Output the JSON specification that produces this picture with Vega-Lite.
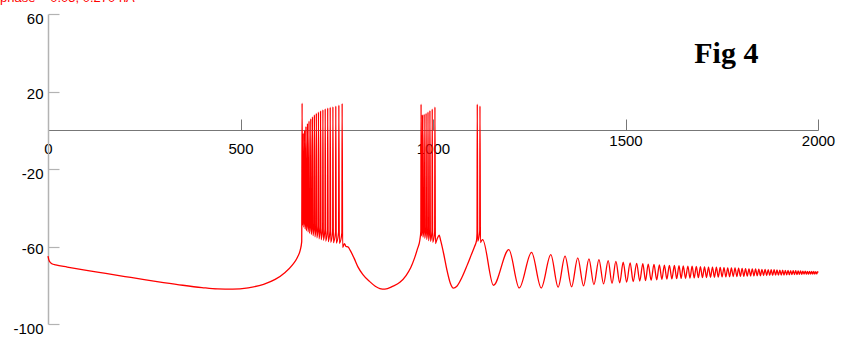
{
 "$schema": "https://vega.github.io/schema/vega-lite/v6.json",
 "width": 770, "height": 310,
 "autosize": "none",
 "padding": {"left": 48, "top": 14, "right": 27, "bottom": 20},
 "background": "white",
 "config": {"view": {"stroke": null}},
 "layer": [
  {
   "data": {"values": [
    {"t":0,"v":-65},{"t":2,"v":-66.8},{"t":5,"v":-68},{"t":10,"v":-68.9},{"t":20,"v":-69.5},{"t":50,"v":-70.6},{"t":100,"v":-72.3},{"t":150,"v":-73.9},{"t":200,"v":-75.5},{"t":250,"v":-77.1},{"t":300,"v":-78.6},{"t":350,"v":-80},{"t":400,"v":-81.2},{"t":440,"v":-81.9},{"t":480,"v":-82},{"t":520,"v":-81.3},{"t":560,"v":-79.5},{"t":590,"v":-77},{"t":615,"v":-73.5},{"t":635,"v":-69.5},{"t":648,"v":-65.5},{"t":655,"v":-62},{"t":659,"v":-57.5},
    {"t":660,"v":14},{"t":661.2,"v":-49},{"t":662.4,"v":-45},
    {"t":663,"v":-1.5},{"t":664.2,"v":-50},{"t":665.9,"v":-45},
    {"t":666.5,"v":0},{"t":667.7,"v":-51},{"t":669.4,"v":-46},
    {"t":670,"v":2},{"t":671.2,"v":-51.8},{"t":673.4,"v":-46},
    {"t":674,"v":3.5},{"t":675.2,"v":-52.5},{"t":677.4,"v":-47},
    {"t":678,"v":4.8},{"t":679.2,"v":-53.2},{"t":681.9,"v":-47.5},
    {"t":682.5,"v":6},{"t":683.7,"v":-53.8},{"t":686.4,"v":-48},
    {"t":687,"v":7},{"t":688.2,"v":-54.4},{"t":691.4,"v":-48.5},
    {"t":692,"v":8},{"t":693.2,"v":-55},{"t":696.4,"v":-49},
    {"t":697,"v":8.8},{"t":698.2,"v":-55.5},{"t":701.9,"v":-49.5},
    {"t":702.5,"v":9.5},{"t":703.7,"v":-56},{"t":707.4,"v":-50},
    {"t":708,"v":10.1},{"t":709.2,"v":-56.4},{"t":713.4,"v":-50.5},
    {"t":714,"v":10.6},{"t":715.2,"v":-56.8},{"t":719.4,"v":-51},
    {"t":720,"v":11.1},{"t":721.2,"v":-57.2},{"t":725.9,"v":-51.5},
    {"t":726.5,"v":11.5},{"t":727.7,"v":-57.5},{"t":732.4,"v":-52},
    {"t":733,"v":11.9},{"t":734.2,"v":-57.8},{"t":739.4,"v":-52},
    {"t":740,"v":12.2},{"t":741.2,"v":-58},{"t":746.9,"v":-52.5},
    {"t":747.5,"v":12.5},{"t":748.7,"v":-58.2},{"t":754.9,"v":-52.5},
    {"t":755.5,"v":13},{"t":756.7,"v":-58.4},{"t":763.4,"v":-53},
    {"t":764,"v":13.8},{"t":765.2,"v":-60.5},
    {"t":770,"v":-58.5},{"t":774,"v":-60},{"t":779,"v":-60.2},{"t":785,"v":-62},{"t":795,"v":-66},{"t":805,"v":-70.5},{"t":818,"v":-74.5},{"t":835,"v":-78},{"t":850,"v":-80.5},{"t":862,"v":-81.7},{"t":875,"v":-82},{"t":895,"v":-80.6},{"t":914,"v":-78.5},{"t":930,"v":-75},{"t":942,"v":-71},{"t":952,"v":-66},{"t":960,"v":-61},{"t":966,"v":-56.5},{"t":968.4,"v":-52},
    {"t":969,"v":13.5},{"t":970.2,"v":-54.5},{"t":971.9,"v":-50},
    {"t":972.5,"v":8},{"t":973.7,"v":-55.2},{"t":976.4,"v":-50},
    {"t":977,"v":8.3},{"t":978.2,"v":-55.8},{"t":981.4,"v":-50.5},
    {"t":982,"v":8.8},{"t":983.2,"v":-56.4},{"t":986.4,"v":-51},
    {"t":987,"v":9.5},{"t":988.2,"v":-57},{"t":991.4,"v":-51.5},
    {"t":992,"v":10.2},{"t":993.2,"v":-57.4},{"t":997.4,"v":-52},
    {"t":998,"v":11},{"t":999.2,"v":-57.8},{"t":1004.4,"v":-52.5},
    {"t":1005,"v":12},{"t":1006.2,"v":-58.5},
    {"t":1010,"v":-56.5},{"t":1016,"v":-54.2},{"t":1020,"v":-57},{"t":1028,"v":-64},{"t":1036,"v":-72},{"t":1045,"v":-79},{"t":1053,"v":-81.5},{"t":1062,"v":-80.5},{"t":1075,"v":-76},{"t":1088,"v":-70},{"t":1100,"v":-64},{"t":1108,"v":-60},{"t":1113,"v":-57},{"t":1114.4,"v":-53},
    {"t":1115,"v":13.5},{"t":1116.2,"v":-57.3},{"t":1121.4,"v":-52},
    {"t":1122,"v":12.6},{"t":1123.2,"v":-58},
    {"t":1126,"v":-57},{"t":1129,"v":-56.4},{"t":1157,"v":-80},
    {"t":1197,"v":-61.6},{"t":1224,"v":-81.4},{"t":1256,"v":-63},{"t":1281,"v":-81.4},{"t":1306,"v":-64.2},{"t":1325,"v":-81},{"t":1343,"v":-65},{"t":1360,"v":-80.8},{"t":1376,"v":-65.9},{"t":1391,"v":-80.3},{"t":1405,"v":-66.4},{"t":1418,"v":-79.7},{"t":1431,"v":-66.8},{"t":1443,"v":-79.3},{"t":1455,"v":-67.3},{"t":1465,"v":-79},{"t":1475,"v":-67.7},{"t":1485,"v":-78.7},{"t":1494,"v":-68.1},{"t":1503,"v":-78.4},{"t":1512,"v":-68.4},{"t":1520,"v":-78.1},{"t":1529,"v":-68.7},{"t":1537,"v":-77.8},{"t":1545,"v":-68.9},{"t":1552,"v":-77.6},{"t":1559,"v":-69.1},{"t":1566.5,"v":-77.4},{"t":1574,"v":-69.3},{"t":1581,"v":-77.2},{"t":1588,"v":-69.5},{"t":1594.5,"v":-77},{"t":1601,"v":-69.6},{"t":1607.5,"v":-76.8},{"t":1614,"v":-69.7},{"t":1620.5,"v":-76.7},{"t":1627,"v":-69.8},{"t":1633,"v":-76.6},{"t":1639,"v":-69.9},{"t":1644.5,"v":-76.5},{"t":1650,"v":-70},{"t":1656,"v":-76.4},
    {"t":1662,"v":-70.1},{"t":1667.5,"v":-76.3},{"t":1673,"v":-70.2},{"t":1678.5,"v":-76.2},{"t":1683.9,"v":-70.3},{"t":1689.3,"v":-76.1},{"t":1694.6,"v":-70.4},{"t":1699.9,"v":-76.1},{"t":1705.2,"v":-70.5},{"t":1710.4,"v":-76},{"t":1715.6,"v":-70.6},{"t":1720.8,"v":-75.9},{"t":1725.9,"v":-70.6},{"t":1731,"v":-75.9},{"t":1736,"v":-70.7},{"t":1741,"v":-75.8},{"t":1746,"v":-70.8},{"t":1750.9,"v":-75.7},{"t":1755.8,"v":-70.9},{"t":1760.7,"v":-75.7},{"t":1765.5,"v":-71},{"t":1770.3,"v":-75.6},{"t":1775.1,"v":-71.1},{"t":1779.8,"v":-75.5},{"t":1784.5,"v":-71.1},{"t":1789.2,"v":-75.5},{"t":1793.8,"v":-71.2},{"t":1798.4,"v":-75.4},{"t":1802.9,"v":-71.3},{"t":1807.4,"v":-75.4},{"t":1811.8,"v":-71.4},{"t":1816.3,"v":-75.3},{"t":1820.7,"v":-71.5},{"t":1825,"v":-75.2},{"t":1829.3,"v":-71.5},{"t":1833.6,"v":-75.2},{"t":1837.9,"v":-71.6},{"t":1842.1,"v":-75.1},{"t":1846.3,"v":-71.7},{"t":1850.4,"v":-75.1},{"t":1854.5,"v":-71.8},{"t":1858.6,"v":-75},{"t":1862.6,"v":-71.8},{"t":1866.6,"v":-75},{"t":1870.6,"v":-71.9},{"t":1874.5,"v":-74.9},{"t":1878.4,"v":-72},{"t":1882.2,"v":-74.9},{"t":1886,"v":-72},{"t":1889.8,"v":-74.8},{"t":1893.5,"v":-72.1},{"t":1897.2,"v":-74.8},{"t":1900.9,"v":-72.2},{"t":1904.6,"v":-74.7},{"t":1908.2,"v":-72.2},{"t":1911.7,"v":-74.7},{"t":1915.2,"v":-72.3},{"t":1918.7,"v":-74.6},{"t":1922.2,"v":-72.3},{"t":1925.6,"v":-74.6},{"t":1929,"v":-72.4},{"t":1932.3,"v":-74.5},{"t":1935.6,"v":-72.5},{"t":1938.9,"v":-74.5},{"t":1942.1,"v":-72.5},{"t":1945.3,"v":-74.5},{"t":1948.5,"v":-72.6},{"t":1951.6,"v":-74.4},{"t":1954.7,"v":-72.6},{"t":1957.8,"v":-74.4},{"t":1960.8,"v":-72.7},{"t":1963.8,"v":-74.3},{"t":1966.7,"v":-72.7},{"t":1969.6,"v":-74.3},{"t":1972.5,"v":-72.8},{"t":1975.3,"v":-74.3},{"t":1978.1,"v":-72.8},{"t":1980.9,"v":-74.2},{"t":1983.6,"v":-72.9},{"t":1986.3,"v":-74.2},{"t":1989,"v":-72.9},{"t":1991.6,"v":-74.2},{"t":1994.2,"v":-73},{"t":1996.7,"v":-74.1},{"t":1999.2,"v":-73},{"t":2000,"v":-73.5}
   ]},
   "mark": {"type": "line", "color": "#ff0000", "strokeWidth": 1.3, "interpolate": "monotone"},
   "encoding": {
    "x": {"field": "t", "type": "quantitative", "scale": {"domain": [0, 2000], "nice": false},
     "axis": {"values": [0, 500, 1000, 1500, 2000], "title": null, "grid": false, "offset": -194,
      "labelExpr": "datum.value + ''",
      "domainColor": "#777777", "domainWidth": 1, "tickColor": "#777777", "tickWidth": 1, "tickSize": -11,
      "labelFont": "Liberation Sans", "labelFontSize": 15, "labelColor": "#000000", "labelBaseline": "top",
      "labelFlush": false, "labelOverlap": false, "labelBound": false,
      "labelPadding": {"condition": {"test": "datum.value >= 1500", "value": 14}, "value": 22}}},
    "y": {"field": "v", "type": "quantitative", "scale": {"domain": [-100, 60], "nice": false, "zero": false},
     "axis": {"values": [-100, -60, -20, 20, 60], "title": null, "grid": false,
      "labelExpr": "datum.value + ''",
      "domainColor": "#b3b3b3", "domainWidth": 1.5, "tickColor": "#b3b3b3", "tickWidth": 1.2, "tickSize": -11,
      "labelFont": "Liberation Sans", "labelFontSize": 15, "labelColor": "#000000", "labelBaseline": "middle",
      "labelPadding": 16, "labelOverlap": false, "labelBound": false,
      "labelOffset": {"condition": {"test": "datum.value == 20 || datum.value == -60", "value": 1.5}, "value": 4}}}
   }
  },
  {
   "data": {"values": [{"t": 1762, "v": 34.9, "label": "Fig 4"}]},
   "mark": {"type": "text", "font": "Liberation Serif", "fontWeight": "bold", "fontSize": 30, "align": "center", "baseline": "alphabetic", "color": "#000000"},
   "encoding": {"x": {"field": "t", "type": "quantitative"}, "y": {"field": "v", "type": "quantitative"}, "text": {"field": "label"}}
  },
  {
   "data": {"values": [{"t": -124.7, "v": 66.4, "label": "phase = 0.05, 0.270 nA"}]},
   "mark": {"type": "text", "font": "Liberation Sans", "fontSize": 13, "align": "left", "baseline": "alphabetic", "color": "#ff0000"},
   "encoding": {"x": {"field": "t", "type": "quantitative"}, "y": {"field": "v", "type": "quantitative"}, "text": {"field": "label"}}
  }
 ]
}
